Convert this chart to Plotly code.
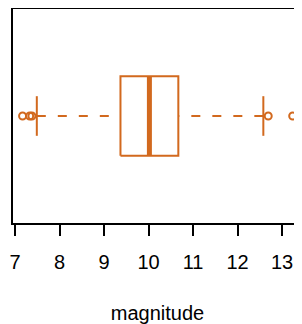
import plotly.graph_objects as go

# Box statistics
q1 = 9.37
median = 10.02
q3 = 10.67
whisker_low = 7.49
whisker_high = 12.58
outliers = [7.17, 7.33, 7.38, 12.69, 13.24]

tick_vals = [7, 8, 9, 10, 11, 12, 13]
tick_text = ["7", "8", "9", "10", "11", "12", "13"]
x_label = "magnitude"

col = "#D2691E"
pos = 1.0
half_box = 0.2
half_staple = 0.1

fig = go.Figure()
# box rectangle
fig.add_trace(go.Scatter(
    x=[q1, q3, q3, q1, q1],
    y=[pos - half_box, pos - half_box, pos + half_box, pos + half_box, pos - half_box],
    mode="lines", line=dict(color=col, width=2), hoverinfo="skip"))
# whiskers (dashed), drawn from whisker end toward box
fig.add_trace(go.Scatter(x=[whisker_low, q1], y=[pos, pos], mode="lines",
                         line=dict(color=col, width=2, dash="9px,12px")))
fig.add_trace(go.Scatter(x=[whisker_high, q3], y=[pos, pos], mode="lines",
                         line=dict(color=col, width=2, dash="9px,12px")))
# staples
fig.add_trace(go.Scatter(x=[whisker_low, whisker_low], y=[pos - half_staple, pos + half_staple],
                         mode="lines", line=dict(color=col, width=2)))
fig.add_trace(go.Scatter(x=[whisker_high, whisker_high], y=[pos - half_staple, pos + half_staple],
                         mode="lines", line=dict(color=col, width=2)))
# median
fig.add_trace(go.Scatter(x=[median, median], y=[pos - half_box, pos + half_box],
                         mode="lines", line=dict(color=col, width=5)))
# outliers
fig.add_trace(go.Scatter(x=outliers, y=[pos] * len(outliers), mode="markers",
                         cliponaxis=False,
                         marker=dict(symbol="circle-open", size=7, color=col,
                                     line=dict(color=col, width=2))))

fig.update_layout(
    width=294, height=316,
    margin=dict(l=5, r=0, t=1, b=101, autoexpand=False),
    paper_bgcolor="white", plot_bgcolor="white",
    showlegend=False,
    font=dict(family="Liberation Sans, Arial, sans-serif", color="black", size=20),
    xaxis=dict(range=[6.955, 13.449], tickvals=tick_vals, ticktext=tick_text,
               ticks="outside", ticklen=11, tickwidth=2, tickcolor="black",
               showline=True, linecolor="black", linewidth=2, mirror=True,
               showgrid=False, zeroline=False, automargin=False,
               ticklabelstandoff=9,
               title=dict(text=x_label, standoff=34, font=dict(size=20)),
               tickfont=dict(size=20)),
    yaxis=dict(range=[0.46, 1.54], showticklabels=False, ticks="",
               showline=True, linecolor="black", linewidth=2, mirror=False,
               showgrid=False, zeroline=False, automargin=False),
)

fig.write_html("out.html")
